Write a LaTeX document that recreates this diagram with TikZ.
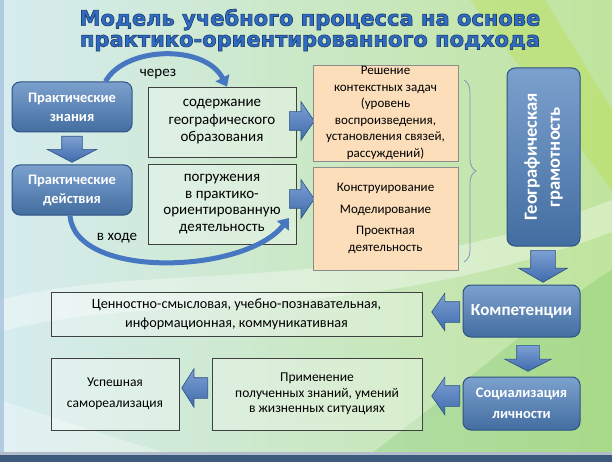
\documentclass[tikz,border=0pt]{standalone}
\usepackage{fontspec}
\setmainfont{Carlito}
\newfontfamily\titlefont{DejaVu Sans}
\usetikzlibrary{shapes.arrows,decorations.pathreplacing,arrows.meta}
\definecolor{boxblue}{HTML}{4F81BD}
\definecolor{edgeblue}{HTML}{2E5283}
\definecolor{arrowblue}{HTML}{4677C0}
\definecolor{peach}{HTML}{FCDEBB}
\definecolor{titleblue}{HTML}{2F6DC4}
\definecolor{bgleft}{HTML}{D6ECF0}
\definecolor{bgmid}{HTML}{E4F2D6}
\definecolor{bgright}{HTML}{C0E49C}
\definecolor{stripblue}{HTML}{3D5A7C}
\newcommand\outlined[1]{\special{pdf:code q 2 Tr 0.7 w 0.13 0.25 0.45 RG}#1\special{pdf:code Q}}
\tikzset{
  bluebox/.style={draw=edgeblue, line width=1pt, rounded corners=8pt,
    top color=boxblue!75!white, bottom color=boxblue!85!black,
    text=white, align=center, inner sep=0pt,
    font=\bfseries\fontsize{14.5}{19}\selectfont},
  plainbox/.style={draw=black!75, line width=0.6pt, fill=white, fill opacity=0.3,
    text opacity=1, align=center, inner sep=0pt,
    font=\fontsize{15}{17.5}\selectfont},
  peachbox/.style={draw=black!45, line width=0.8pt, fill=peach, align=center,
    inner sep=0pt, font=\fontsize{13}{16.5}\selectfont},
  blockarrow/.style={single arrow, draw=edgeblue, line width=0.6pt,
    top color=arrowblue!70!white, bottom color=arrowblue!90!black,
    inner xsep=0pt, anchor=tail},
  bendarrow/.style={line width=5pt, draw=arrowblue,
    -{Triangle[length=10pt,width=15pt]}},
  arclabel/.style={font=\fontsize{15}{17}\selectfont}
}
\begin{document}
\begin{tikzpicture}[x=1pt,y=-1pt]
  \useasboundingbox (0,0) rectangle (612,462);
  %% background
  \shade[left color=bgleft, middle color=bgmid, right color=bgright] (0,0) rectangle (612,462);
  \fill[white, opacity=0.35] (0,300) .. controls (150,260) and (350,300) .. (612,200)
    -- (612,232) .. controls (350,330) and (150,290) .. (0,332) -- cycle;
  \fill[yellow!70!green, opacity=0.25] (470,0) -- (545,0) -- (612,110) -- (612,190) -- cycle;
  \fill[green!60!black, opacity=0.12] (360,462) .. controls (470,380) and (560,300) .. (612,270)
    -- (612,462) -- cycle;
  \fill[white, opacity=0.3] (0,400) .. controls (60,420) and (120,440) .. (170,454) -- (0,454) -- cycle;
  \fill[boxblue!60!white, opacity=0.6] (0,0) rectangle (4,454);
  \fill[white!60!stripblue] (0,452) rectangle (612,455);
  \fill[stripblue] (0,455) rectangle (612,462);

  %% title
  \node[font=\titlefont\bfseries\fontsize{21}{21}\selectfont, text=titleblue, align=center]
    (title) at (310,30) {\outlined{Модель учебного процесса на основе}\\\outlined{практико-ориентированного подхода}};

  %% left column
  \node[bluebox, minimum width=120pt, minimum height=50pt] (know) at (72,107) {Практические\\знания};
  \node[bluebox, minimum width=120pt, minimum height=50pt] (act) at (72,190) {Практические\\действия};
  \node[blockarrow, rotate=270, minimum height=26pt, inner ysep=10pt,
    single arrow head extend=14.5pt, single arrow tip angle=125] (a1) at (72,136) {};

  %% middle column
  \node[plainbox, minimum width=148pt, minimum height=70pt] (content) at (222,122)
    {содержание\\географического\\образования};
  \node[plainbox, minimum width=148pt, minimum height=80pt, font=\fontsize{15}{16.7}\selectfont]
    (immerse) at (222,204) {погружения\\в практико-\\ориентированную\\деятельность};
  \node[blockarrow, minimum height=25pt, inner ysep=9pt,
    single arrow head extend=10pt, single arrow tip angle=111] (a2) at (289,121) {};
  \node[blockarrow, minimum height=25pt, inner ysep=9pt,
    single arrow head extend=10pt, single arrow tip angle=111] (a3) at (289,199) {};

  %% curved arrows
  \draw[bendarrow] ([xshift=-27pt]know.north east) .. controls (125,46) and (205,44) .. ([xshift=5pt]content.north);
  \node[arclabel] (via) at (158,74) {через};
  \coordinate (tip2) at (289,218);
  \draw[bendarrow] ([xshift=-2pt]act.south) .. controls (75,280) and (245,274) .. (tip2);
  \node[arclabel] (during) at (117,238) {в ходе};

  %% peach boxes
  \node[peachbox, minimum width=145pt, minimum height=96pt] (tasks) at (385.5,113)
    {Решение\\контекстных задач\\(уровень\\воспроизведения,\\установления связей,\\рассуждений)};
  \node[peachbox, minimum width=145pt, minimum height=103pt] (design) at (385.5,218.5)
    {Конструирование\\[5pt]Моделирование\\[5pt]Проектная\\деятельность};
  \coordinate (bt) at (464,80);
  \coordinate (bb) at (464,262);
  \draw[edgeblue!60, line width=0.8pt, decorate, decoration={brace, amplitude=12pt}] (bt) -- (bb);

  %% right column
  \node[bluebox, rotate=90, minimum width=178pt, minimum height=73pt,
    font=\bfseries\fontsize{18.5}{23}\selectfont] (literacy) at (543.5,157) {Географическая\\грамотность};
  \node[blockarrow, rotate=270, minimum height=32pt, inner ysep=12pt,
    single arrow head extend=12pt, single arrow tip angle=120] (a4) at (543,250) {};
  \node[bluebox, minimum width=117pt, minimum height=52pt,
    font=\bfseries\fontsize{17}{20}\selectfont] (comp) at (521.5,311) {Компетенции};
  \node[blockarrow, rotate=270, minimum height=26pt, inner ysep=11pt,
    single arrow head extend=12pt, single arrow tip angle=125] (a5) at (528,345) {};
  \node[bluebox, minimum width=117pt, minimum height=53pt,
    font=\bfseries\fontsize{14.5}{21}\selectfont] (social) at (521.5,403.5) {Социализация\\личности};

  %% bottom rows
  \node[plainbox, minimum width=371pt, minimum height=44pt, font=\fontsize{14.2}{19}\selectfont]
    (values) at (236.5,314) {Ценностно-смысловая, учебно-познавательная,\\информационная, коммуникативная};
  \node[blockarrow, rotate=180, minimum height=28pt, inner ysep=10pt,
    single arrow head extend=8.5pt, single arrow tip angle=110] (a6) at (460,312) {};
  \node[plainbox, minimum width=210pt, minimum height=72pt, font=\fontsize{13.5}{15.5}\selectfont]
    (apply) at (317,394) {Применение\\полученных знаний, умений\\в жизненных ситуациях};
  \node[blockarrow, rotate=180, minimum height=28pt, inner ysep=10pt,
    single arrow head extend=8.5pt, single arrow tip angle=110] (a7) at (460,396) {};
  \node[plainbox, minimum width=128pt, minimum height=72pt, font=\fontsize{13.5}{21}\selectfont]
    (success) at (115,394) {Успешная\\самореализация};
  \node[blockarrow, rotate=180, minimum height=26pt, inner ysep=10pt,
    single arrow head extend=9pt, single arrow tip angle=115] (a8) at (208,388) {};
\end{tikzpicture}
\end{document}
